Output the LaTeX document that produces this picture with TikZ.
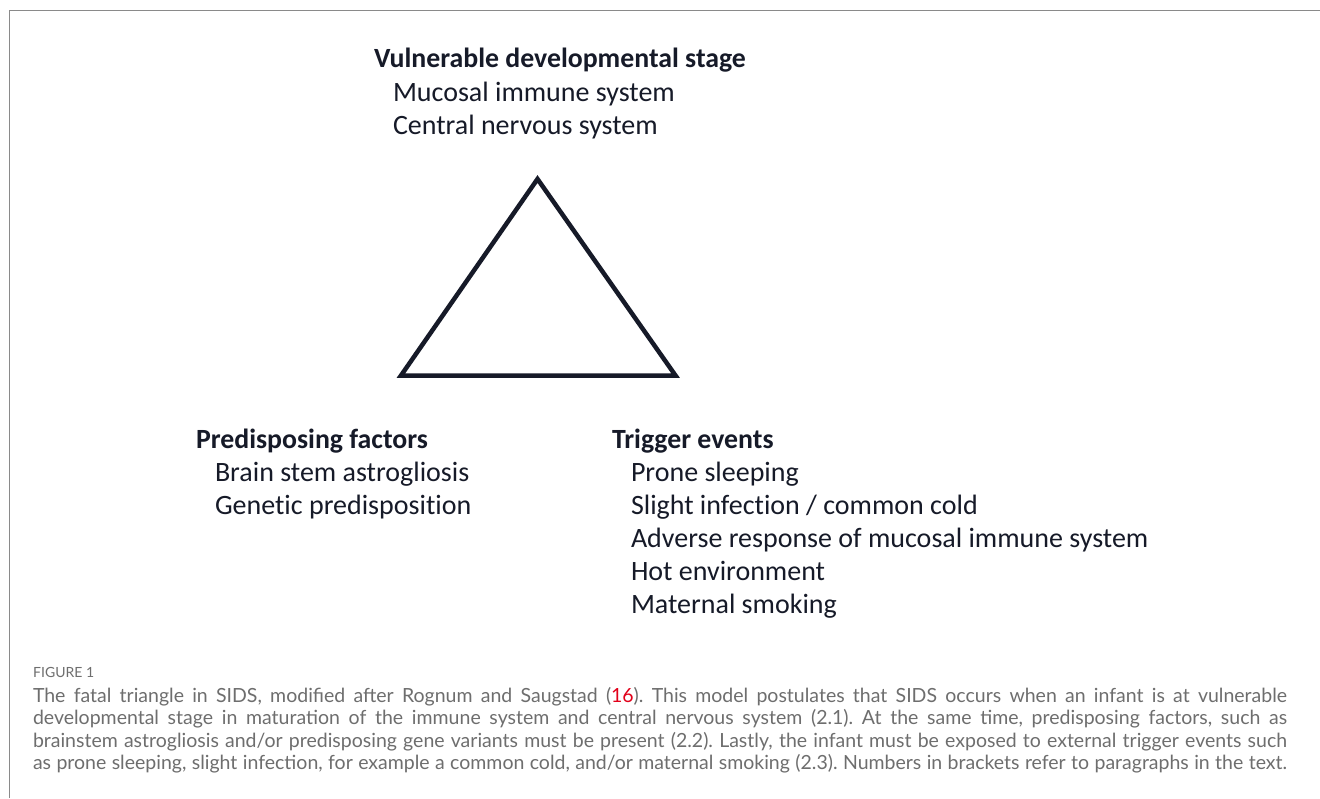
\documentclass[tikz,border=0pt]{standalone}
\usepackage{fontspec}
\setmainfont{Carlito}[Ligatures=NoCommon]
\newfontfamily\capfont{Lato}
\definecolor{ink}{HTML}{161A28}
\definecolor{capgray}{HTML}{6E6E6E}
\definecolor{framegray}{HTML}{8A8A8A}
\definecolor{refred}{HTML}{E2001A}
\frenchspacing
\begin{document}
\begin{tikzpicture}[x=1pt,y=-1pt,
  txt/.style={anchor=base west,inner sep=0pt,outer sep=0pt,text=ink,font=\fontsize{28}{30}\selectfont},
  head/.style={txt,font=\fontsize{27.8}{30}\selectfont\bfseries},
  capline/.style={anchor=base west,inner sep=0pt,outer sep=0pt,text=capgray,font=\capfont\fontsize{19.5}{22}\selectfont},
  edge/.style={draw=ink,line width=4.5pt,line join=miter}]
\useasboundingbox (0,0) rectangle (1320,798);
\fill[white] (0,0) rectangle (1320,798);
% open frame: top rule and left rule only
\draw[framegray,line width=1.6pt] (9.5,798) -- (9.5,10.5) -- (1320,10.5);

% top vertex label
\node[head] (vul) at (374,67) {Vulnerable developmental stage};
\node[txt] (vul1) at (393,101) {Mucosal immune system};
\node[txt] (vul2) at (393,134) {Central nervous system};

% the triangle
\coordinate (apex) at (537.5,179);
\coordinate (bl) at (401,375.5);
\coordinate (br) at (675.5,375.5);
\draw[edge] (apex) -- (bl) -- (br) -- cycle;

% lower left label
\node[head] (pre) at (196,448) {Predisposing factors};
\node[txt] (pre1) at (215,481) {Brain stem astrogliosis};
\node[txt] (pre2) at (215,514) {Genetic predisposition};

% lower right label
\node[head] (trg) at (612,448) {Trigger events};
\node[txt] (trg1) at (631,481) {Prone sleeping};
\node[txt] (trg2) at (631,514) {Slight infection / common cold};
\node[txt] (trg3) at (631,547) {Adverse response of mucosal immune system};
\node[txt] (trg4) at (631,580) {Hot environment};
\node[txt] (trg5) at (631,613) {Maternal smoking};

% caption
\node[anchor=base west,inner sep=0pt,text=capgray,font=\capfont\fontsize{14}{15}\selectfont] (fig) at (33,677.5) {FIGURE 1};
\node[capline] (c1) at (33,702) {\makebox[1254pt][s]{The fatal triangle in SIDS, modified after Rognum and Saugstad (\textcolor{refred}{16}). This model postulates that SIDS occurs when an infant is at vulnerable}};
\node[capline] (c2) at (33,724.5) {\makebox[1254pt][s]{developmental stage in maturation of the immune system and central nervous system (2.1). At the same time, predisposing factors, such as}};
\node[capline] (c3) at (33,747) {\makebox[1254pt][s]{brainstem astrogliosis and/or predisposing gene variants must be present (2.2). Lastly, the infant must be exposed to external trigger events such}};
\node[capline] (c4) at (33,769.5) {\makebox[1254pt][s]{as prone sleeping, slight infection, for example a common cold, and/or maternal smoking (2.3). Numbers in brackets refer to paragraphs in the text.}};
\end{tikzpicture}
\end{document}
